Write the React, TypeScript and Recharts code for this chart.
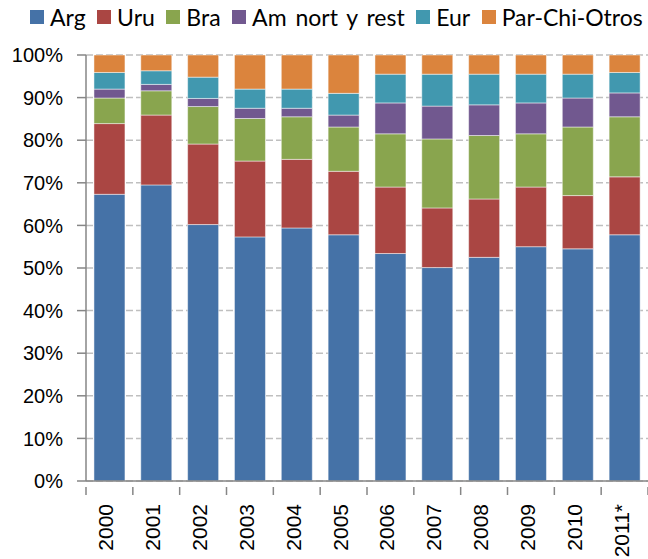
import React from 'react';
import { BarChart, Bar, XAxis, YAxis, CartesianGrid, Legend } from 'recharts';

const years = ['2000', '2001', '2002', '2003', '2004', '2005', '2006', '2007', '2008', '2009', '2010', '2011*'];

const arg = [67.3, 69.5, 60.2, 57.3, 59.4, 57.8, 53.4, 50.1, 52.5, 55.0, 54.5, 57.8];
const uru = [16.6, 16.4, 18.9, 17.8, 16.1, 14.9, 15.6, 14.0, 13.7, 14.0, 12.5, 13.6];
const bra = [6.0, 5.7, 8.8, 10.0, 10.0, 10.4, 12.5, 16.2, 14.9, 12.5, 16.1, 14.1];
const amNorte = [2.1, 1.5, 1.9, 2.4, 2.0, 2.8, 7.25, 7.7, 7.2, 7.25, 6.8, 5.6];
const eur = [3.9, 3.2, 5.0, 4.5, 4.5, 5.1, 6.75, 7.5, 7.2, 6.75, 5.6, 4.8];
const otros = [4.1, 3.7, 5.2, 8.0, 8.0, 9.0, 4.5, 4.5, 4.5, 4.5, 4.5, 4.1];

const yTicks = [0, 10, 20, 30, 40, 50, 60, 70, 80, 90, 100];

const SERIES = [
  { key: 'arg', name: 'Arg', color: '#4572A7' },
  { key: 'uru', name: 'Uru', color: '#AA4643' },
  { key: 'bra', name: 'Bra', color: '#89A54E' },
  { key: 'am', name: 'Am nort y rest', color: '#71588F' },
  { key: 'eur', name: 'Eur', color: '#4198AF' },
  { key: 'otros', name: 'Par-Chi-Otros', color: '#DB843D' },
];

const data = years.map((year, i) => ({
  year,
  arg: arg[i],
  uru: uru[i],
  bra: bra[i],
  am: amNorte[i],
  eur: eur[i],
  otros: otros[i],
}));

const CAT_W = 562 / years.length;

function YearTick(props: any) {
  const { x, y, payload, index } = props;
  const half = CAT_W / 2;
  const ty = y + 15;
  return (
    <g>
      <line x1={x + half} y1={y - 2} x2={x + half} y2={y + 6} stroke="#868686" strokeWidth={1.5} />
      {index === 0 && (
        <line x1={x - half} y1={y - 2} x2={x - half} y2={y + 6} stroke="#868686" strokeWidth={1.5} />
      )}
      <text
        x={x}
        y={ty}
        transform={`rotate(-90, ${x}, ${ty})`}
        textAnchor="end"
        dy={4}
        fontSize={21}
        fontFamily="'Liberation Sans', Arial, sans-serif"
        fill="#000"
      >
        {payload.value}
      </text>
    </g>
  );
}

function LegendContent() {
  return (
    <div
      style={{
        display: 'flex',
        paddingLeft: 30,
        fontFamily: 'Lato, sans-serif',
        fontSize: 23,
        lineHeight: '26px',
        wordSpacing: 3,
        color: '#000',
      }}
    >
      {SERIES.map((s) => (
        <div key={s.key} style={{ display: 'flex', alignItems: 'center', marginRight: 11.5 }}>
          <span style={{ width: 14, height: 14, background: s.color, display: 'inline-block', marginRight: 6 }} />
          <span style={{ whiteSpace: 'pre' }}>{s.name}</span>
        </div>
      ))}
    </div>
  );
}

export default function App() {
  return (
    <div style={{ position: 'absolute', left: 0, top: 0, background: '#fff' }}>
      <BarChart width={648} height={559} data={data} margin={{ top: 29, right: 0, bottom: 0, left: 0 }} barCategoryGap="17%">
        <Legend
          verticalAlign="top"
          align="left"
          content={<LegendContent />}
          wrapperStyle={{ top: 4, left: 0, width: 648 }}
        />
        <CartesianGrid vertical={false} stroke="#BFBFBF" strokeDasharray="7 3" strokeWidth={1.5} />
        <XAxis
          dataKey="year"
          height={78}
          axisLine={{ stroke: '#868686', strokeWidth: 1.5 }}
          tickLine={false}
          interval={0}
          tick={<YearTick />}
        />
        <YAxis
          width={86}
          domain={[0, 100]}
          ticks={yTicks}
          tickFormatter={(v: number) => `${v}%`}
          axisLine={{ stroke: '#868686', strokeWidth: 1.5 }}
          tickLine={{ stroke: '#868686', strokeWidth: 1.5 }}
          tickSize={9}
          tickMargin={14}
          tick={{ fontSize: 20, fill: '#000', fontFamily: "'Liberation Sans', Arial, sans-serif" }}
          allowDataOverflow
        />
        {SERIES.map((s) => (
          <Bar
            key={s.key}
            dataKey={s.key}
            name={s.name}
            stackId="a"
            fill={s.color}
            stroke="#ffffff"
            strokeOpacity={0.6}
            strokeWidth={0.8}
            isAnimationActive={false}
          />
        ))}
      </BarChart>
    </div>
  );
}
